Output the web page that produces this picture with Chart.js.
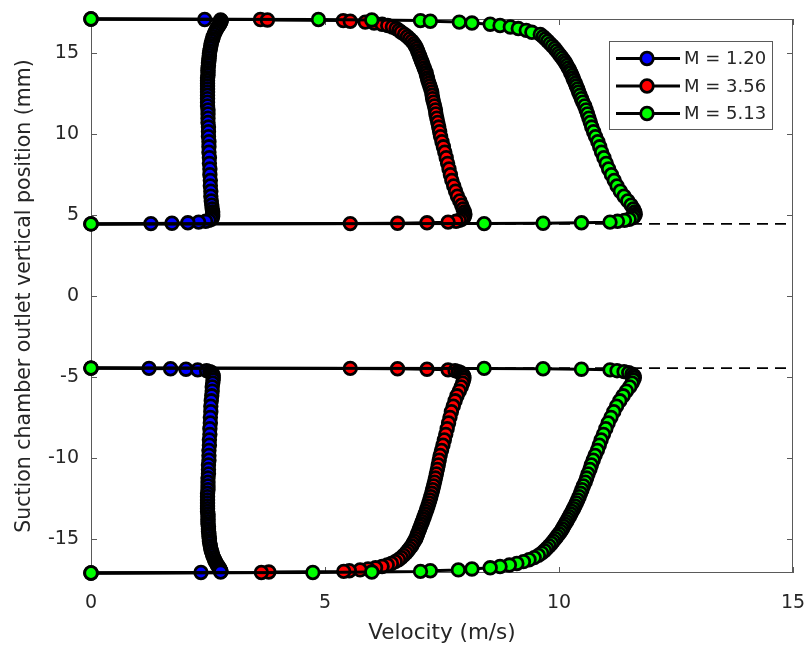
<!DOCTYPE html>
<html>
<head>
<meta charset="utf-8">
<script src="https://cdn.jsdelivr.net/npm/chart.js@4/dist/chart.umd.min.js"></script>
<style>
  html, body { margin: 0; padding: 0; background: #fff; }
  #wrap { width: 811px; height: 651px; }
</style>
</head>
<body>
<div id="wrap"><canvas id="myChart" width="811" height="651"></canvas></div>
<script>
// labels and colours of the three Mach cases
const seriesLabels = ['M = 1.20', 'M = 3.56', 'M = 5.13'];
const seriesColors = ['#0000ff', '#ff0000', '#00ff00'];

const xTicks = [0, 5, 10, 15];
const yTicks = [-15, -10, -5, 0, 5, 10, 15];

// vertical positions (mm) of the upper channel, from outer wall to inner wall
const yUpper = [17.10, 17.07, 17.04, 17.00, 16.96, 16.91, 16.85, 16.78, 16.70, 16.61,
  16.51, 16.40, 16.28, 16.15, 16.01, 15.87, 15.73, 15.58, 15.43, 15.28,
  15.13, 14.98, 14.83, 14.68, 14.53, 14.38, 14.23, 14.08, 13.93, 13.78,
  13.62, 13.46, 13.30, 13.13, 12.96, 12.78, 12.59, 12.39, 12.18, 11.96,
  11.73, 11.49, 11.24, 10.98, 10.71, 10.43, 10.14, 9.84, 9.53, 9.21,
  8.88, 8.54, 8.19, 7.84, 7.49, 7.14, 6.80, 6.47, 6.16, 5.87,
  5.61, 5.38, 5.19, 5.04, 4.92, 4.82, 4.74, 4.67, 4.61, 4.56,
  4.52, 4.49, 4.47, 4.45];

// vertical positions (mm) of the lower channel, from outer wall to inner wall
const yLower = [-17.10, -17.07, -17.04, -17.00, -16.96, -16.91, -16.85, -16.78, -16.70, -16.61,
  -16.51, -16.40, -16.28, -16.15, -16.01, -15.87, -15.73, -15.58, -15.43, -15.28,
  -15.13, -14.98, -14.83, -14.68, -14.53, -14.38, -14.23, -14.08, -13.93, -13.78,
  -13.62, -13.46, -13.30, -13.13, -12.96, -12.78, -12.59, -12.39, -12.18, -11.96,
  -11.73, -11.49, -11.24, -10.98, -10.71, -10.43, -10.14, -9.84, -9.53, -9.21,
  -8.88, -8.54, -8.19, -7.84, -7.49, -7.14, -6.80, -6.47, -6.16, -5.87,
  -5.61, -5.38, -5.19, -5.04, -4.92, -4.82, -4.74, -4.67, -4.61, -4.56,
  -4.52, -4.49, -4.47, -4.45];

// velocity (m/s), M = 1.20
const velBlueUpper = [0, 2.43, 2.77, 2.78, 2.78, 2.77, 2.76, 2.75, 2.73, 2.71,
  2.69, 2.67, 2.65, 2.63, 2.61, 2.60, 2.58, 2.57, 2.56, 2.55,
  2.54, 2.53, 2.53, 2.52, 2.52, 2.51, 2.51, 2.50, 2.50, 2.50,
  2.50, 2.49, 2.49, 2.49, 2.49, 2.49, 2.49, 2.49, 2.49, 2.49,
  2.49, 2.50, 2.50, 2.50, 2.50, 2.51, 2.51, 2.51, 2.52, 2.52,
  2.52, 2.53, 2.53, 2.54, 2.54, 2.55, 2.55, 2.56, 2.56, 2.57,
  2.58, 2.59, 2.60, 2.60, 2.60, 2.59, 2.57, 2.52, 2.45, 2.30,
  2.07, 1.73, 1.28, 0];
const velBlueLower = [0, 2.35, 2.77, 2.78, 2.77, 2.76, 2.75, 2.74, 2.72, 2.70,
  2.68, 2.66, 2.64, 2.62, 2.60, 2.59, 2.57, 2.56, 2.55, 2.54,
  2.53, 2.53, 2.52, 2.52, 2.51, 2.51, 2.51, 2.50, 2.50, 2.50,
  2.50, 2.50, 2.49, 2.49, 2.49, 2.49, 2.49, 2.49, 2.49, 2.50,
  2.50, 2.50, 2.50, 2.51, 2.51, 2.51, 2.52, 2.52, 2.52, 2.53,
  2.53, 2.54, 2.54, 2.55, 2.55, 2.56, 2.56, 2.57, 2.58, 2.59,
  2.59, 2.60, 2.61, 2.61, 2.61, 2.60, 2.58, 2.54, 2.47, 2.28,
  2.03, 1.70, 1.24, 0];

// velocity (m/s), M = 3.56
const velRedUpper = [0, 3.62, 3.77, 5.39, 5.54, 5.86, 6.05, 6.22, 6.34, 6.44,
  6.52, 6.58, 6.63, 6.70, 6.76, 6.81, 6.86, 6.90, 6.93, 6.96,
  6.98, 7.00, 7.02, 7.04, 7.06, 7.08, 7.10, 7.12, 7.14, 7.16,
  7.17, 7.19, 7.20, 7.22, 7.24, 7.26, 7.28, 7.29, 7.30, 7.32,
  7.34, 7.36, 7.37, 7.39, 7.41, 7.43, 7.45, 7.47, 7.50, 7.53,
  7.56, 7.59, 7.62, 7.65, 7.68, 7.71, 7.75, 7.79, 7.83, 7.88,
  7.92, 7.95, 7.98, 7.99, 7.98, 7.96, 7.92, 7.87, 7.80, 7.63,
  7.18, 6.55, 5.54, 0];
const velRedLower = [0, 3.64, 3.80, 5.40, 5.52, 5.75, 5.92, 6.08, 6.22, 6.33,
  6.42, 6.50, 6.57, 6.63, 6.68, 6.73, 6.77, 6.81, 6.85, 6.88,
  6.91, 6.94, 6.96, 6.98, 7.00, 7.02, 7.04, 7.06, 7.08, 7.10,
  7.12, 7.14, 7.16, 7.18, 7.20, 7.22, 7.24, 7.26, 7.28, 7.30,
  7.32, 7.34, 7.36, 7.38, 7.40, 7.42, 7.44, 7.46, 7.49, 7.52,
  7.55, 7.58, 7.61, 7.64, 7.67, 7.70, 7.74, 7.78, 7.82, 7.87,
  7.91, 7.94, 7.96, 7.97, 7.96, 7.94, 7.90, 7.85, 7.78, 7.63,
  7.18, 6.55, 5.54, 0];

// velocity (m/s), M = 5.13
const velGreenUpper = [0, 4.86, 6.00, 7.04, 7.25, 7.87, 8.14, 8.53, 8.74, 8.96,
  9.13, 9.30, 9.42, 9.60, 9.66, 9.71, 9.76, 9.81, 9.86, 9.91,
  9.95, 9.99, 10.03, 10.07, 10.11, 10.14, 10.17, 10.20, 10.23, 10.25,
  10.28, 10.30, 10.32, 10.35, 10.37, 10.40, 10.42, 10.45, 10.48, 10.51,
  10.55, 10.58, 10.61, 10.64, 10.67, 10.70, 10.74, 10.78, 10.83, 10.87,
  10.91, 10.96, 11.01, 11.06, 11.12, 11.18, 11.24, 11.31, 11.39, 11.47,
  11.54, 11.59, 11.62, 11.63, 11.61, 11.57, 11.50, 11.40, 11.25, 11.09,
  10.48, 9.66, 8.40, 0];
const velGreenLower = [0, 4.74, 6.00, 7.04, 7.25, 7.85, 8.14, 8.53, 8.74, 8.94,
  9.10, 9.24, 9.36, 9.47, 9.56, 9.63, 9.69, 9.74, 9.79, 9.84,
  9.88, 9.92, 9.96, 10.00, 10.04, 10.07, 10.10, 10.13, 10.16, 10.19,
  10.22, 10.25, 10.28, 10.31, 10.34, 10.37, 10.40, 10.43, 10.46, 10.49,
  10.52, 10.56, 10.59, 10.62, 10.66, 10.69, 10.73, 10.77, 10.82, 10.86,
  10.90, 10.95, 11.00, 11.05, 11.11, 11.17, 11.23, 11.30, 11.37, 11.44,
  11.51, 11.56, 11.59, 11.61, 11.60, 11.56, 11.49, 11.39, 11.24, 11.09,
  10.48, 9.66, 8.40, 0];

// inner wall positions drawn as dashed reference lines
const wallX = [0, 15];
const wallY = [4.45, -4.45];

const FONT = 'DejaVu Sans';
const TEXT = '#262626';

const upperVel = [velBlueUpper, velRedUpper, velGreenUpper];
const lowerVel = [velBlueLower, velRedLower, velGreenLower];

function profile(vel, ys, reverse) {
  const pts = ys.map((y, i) => ({ x: vel[i], y: y }));
  return reverse ? pts.reverse() : pts;
}

const datasets = [];
seriesLabels.forEach((label, k) => {
  [profile(upperVel[k], yUpper, false), profile(lowerVel[k], yLower, true)].forEach(pts => {
    datasets.push({
      label: label,
      data: pts,
      showLine: true,
      borderColor: '#000',
      borderWidth: 3,
      pointRadius: 6.3,
      pointBorderWidth: 2.8,
      pointBorderColor: '#000',
      pointBackgroundColor: seriesColors[k],
      clip: false,
      order: 2 - k
    });
  });
});
wallY.forEach(wy => {
  datasets.push({
    label: 'wall',
    data: wallX.map(x => ({ x: x, y: wy })),
    showLine: true,
    borderColor: '#000',
    borderWidth: 1.6,
    borderDash: [11, 7],
    pointRadius: 0,
    clip: false,
    order: 5
  });
});

// MATLAB style box with inward ticks, under the data
const frame = {
  id: 'frame',
  beforeDatasetsDraw(chart) {
    const { ctx, chartArea: a, scales: { x, y } } = chart;
    ctx.save();
    ctx.strokeStyle = '#5a5a5a';
    ctx.lineWidth = 1;
    ctx.strokeRect(Math.round(a.left) + 0.5, Math.round(a.top) + 0.5,
      Math.round(a.right - a.left) - 1, Math.round(a.bottom - a.top) - 1);
    const tl = 6;
    ctx.beginPath();
    xTicks.forEach(v => {
      const px = Math.round(x.getPixelForValue(v)) + 0.5;
      ctx.moveTo(px, a.bottom); ctx.lineTo(px, a.bottom - tl);
      ctx.moveTo(px, a.top); ctx.lineTo(px, a.top + tl);
    });
    yTicks.forEach(v => {
      const py = Math.round(y.getPixelForValue(v)) + 0.5;
      ctx.moveTo(a.left, py); ctx.lineTo(a.left + tl, py);
      ctx.moveTo(a.right, py); ctx.lineTo(a.right - tl, py);
    });
    ctx.stroke();
    ctx.restore();
  }
};

// legend box with line + marker samples
const legendBox = {
  id: 'legendBox',
  afterDraw(chart) {
    const ctx = chart.ctx;
    const bx = 609, by = 41, bw = 163, bh = 88;
    ctx.save();
    ctx.fillStyle = '#fff';
    ctx.fillRect(bx, by, bw, bh);
    ctx.strokeStyle = '#5a5a5a';
    ctx.lineWidth = 1;
    ctx.strokeRect(bx + 0.5, by + 0.5, bw, bh);
    const rows = [58.5, 86, 113.5];
    seriesLabels.forEach((label, k) => {
      const ry = rows[k];
      ctx.strokeStyle = '#000';
      ctx.lineWidth = 3;
      ctx.beginPath();
      ctx.moveTo(616, ry); ctx.lineTo(680, ry);
      ctx.stroke();
      ctx.beginPath();
      ctx.arc(647, ry, 6.3, 0, Math.PI * 2);
      ctx.fillStyle = seriesColors[k];
      ctx.fill();
      ctx.lineWidth = 2.8;
      ctx.stroke();
      ctx.fillStyle = TEXT;
      ctx.font = '18px "' + FONT + '"';
      ctx.textAlign = 'left';
      ctx.textBaseline = 'middle';
      ctx.fillText(label, 684, ry + 1);
    });
    ctx.restore();
  }
};

new Chart(document.getElementById('myChart'), {
  type: 'scatter',
  data: { datasets: datasets },
  options: {
    responsive: false,
    animation: false,
    events: [],
    devicePixelRatio: 1,
    layout: { padding: { top: 19, right: 18, bottom: 0, left: 0 } },
    plugins: {
      legend: { display: false },
      tooltip: { enabled: false }
    },
    scales: {
      x: {
        type: 'linear',
        min: 0,
        max: 15,
        afterBuildTicks: s => { s.ticks = xTicks.map(v => ({ value: v })); },
        afterFit: s => { s.height = 78; s.paddingLeft = 0; s.paddingRight = 0; },
        grid: { display: false, drawTicks: false },
        border: { display: false },
        ticks: { padding: 19, color: TEXT, font: { family: FONT, size: 19 }, maxRotation: 0 },
        title: {
          display: true,
          text: 'Velocity (m/s)',
          color: TEXT,
          font: { family: FONT, size: 21.5 },
          padding: { top: 0, bottom: 5 }
        }
      },
      y: {
        type: 'linear',
        min: -17.1,
        max: 17.1,
        afterBuildTicks: s => { s.ticks = yTicks.map(v => ({ value: v })); },
        afterFit: s => { s.width = 91; s.paddingTop = 0; s.paddingBottom = 0; },
        grid: { display: false, drawTicks: false },
        border: { display: false },
        ticks: { padding: 12, color: TEXT, font: { family: FONT, size: 19 } },
        title: {
          display: true,
          text: 'Suction chamber outlet vertical position (mm)',
          color: TEXT,
          font: { family: FONT, size: 20.5 },
          padding: { top: 12, bottom: 0 }
        }
      }
    }
  },
  plugins: [frame, legendBox]
});
</script>
</body>
</html>
